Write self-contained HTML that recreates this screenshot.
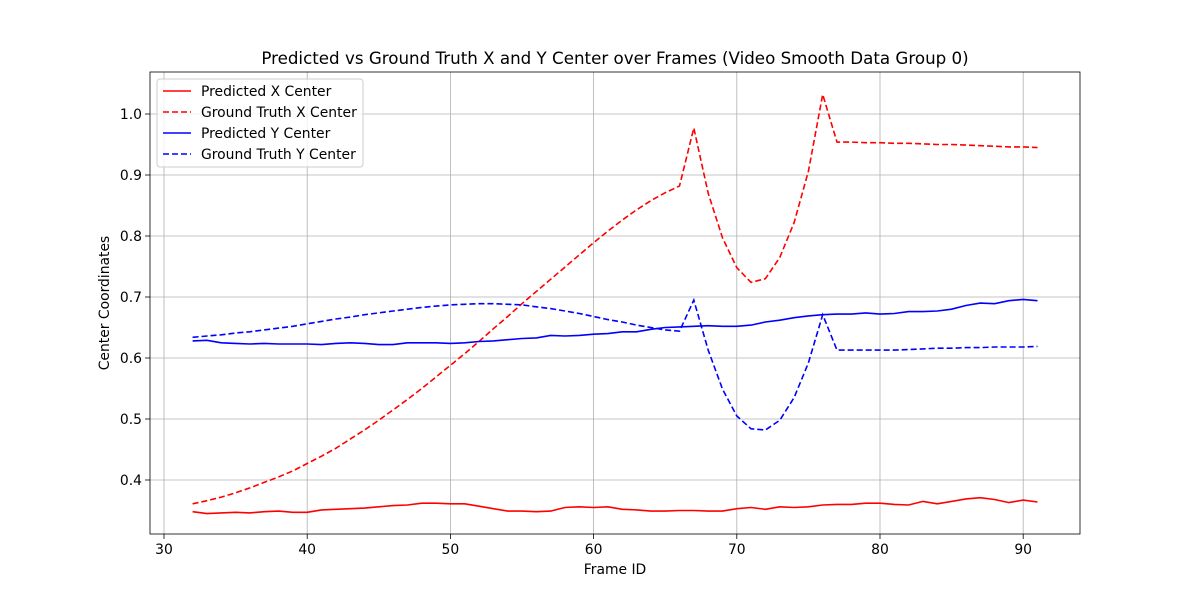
<!DOCTYPE html>
<html><head><meta charset="utf-8"><style>
body{margin:0;background:#fff;}
svg text{font-family:"DejaVu Sans","Liberation Sans",sans-serif;fill:#000;}
</style></head><body>
<svg id="chart" width="1200" height="600" viewBox="0 0 1200 600" xmlns="http://www.w3.org/2000/svg">
<rect width="1200" height="600" fill="#fff"/>
<g id="grid"></g><g id="series"></g><g id="axes"></g><g id="legend"></g>
</svg>
<script>
const frames=[];for(let f=32;f<=91;f++)frames.push(f);
const predX=[0.348,0.345,0.346,0.347,0.346,0.348,0.349,0.347,0.347,0.351,0.352,0.353,0.354,0.356,0.358,0.359,0.362,0.362,0.361,0.361,0.357,0.353,0.349,0.349,0.348,0.349,0.355,0.356,0.355,0.356,0.352,0.351,0.349,0.349,0.350,0.350,0.349,0.349,0.353,0.355,0.352,0.356,0.355,0.356,0.359,0.360,0.360,0.362,0.362,0.360,0.359,0.365,0.361,0.365,0.369,0.371,0.368,0.363,0.367,0.364];
const gtX=[0.361,0.366,0.372,0.379,0.387,0.396,0.405,0.415,0.427,0.439,0.452,0.467,0.482,0.498,0.515,0.532,0.550,0.569,0.588,0.607,0.627,0.648,0.668,0.689,0.709,0.729,0.749,0.769,0.789,0.808,0.826,0.843,0.858,0.871,0.882,0.977,0.870,0.797,0.748,0.724,0.730,0.765,0.822,0.906,1.032,0.954,0.954,0.953,0.953,0.952,0.952,0.951,0.950,0.950,0.949,0.948,0.947,0.946,0.946,0.945];
const predY=[0.628,0.629,0.625,0.624,0.623,0.624,0.623,0.623,0.623,0.622,0.624,0.625,0.624,0.622,0.622,0.625,0.625,0.625,0.624,0.625,0.627,0.628,0.630,0.632,0.633,0.637,0.636,0.637,0.639,0.640,0.643,0.643,0.647,0.650,0.651,0.652,0.653,0.652,0.652,0.654,0.659,0.662,0.666,0.669,0.671,0.672,0.672,0.674,0.672,0.673,0.676,0.676,0.677,0.680,0.686,0.690,0.689,0.694,0.696,0.694];
const gtY=[0.634,0.636,0.638,0.641,0.643,0.646,0.649,0.652,0.656,0.660,0.664,0.667,0.671,0.674,0.677,0.680,0.683,0.685,0.687,0.688,0.689,0.689,0.688,0.687,0.684,0.681,0.677,0.673,0.668,0.663,0.659,0.654,0.650,0.646,0.644,0.695,0.613,0.549,0.505,0.484,0.482,0.498,0.535,0.592,0.671,0.613,0.613,0.613,0.613,0.613,0.614,0.615,0.616,0.616,0.617,0.617,0.618,0.618,0.618,0.619];
const xTicks=[30,40,50,60,70,80,90];
const yTicks=[0.4,0.5,0.6,0.7,0.8,0.9,1.0];
const seriesNames=["Predicted X Center","Ground Truth X Center","Predicted Y Center","Ground Truth Y Center"];

const L=150,R=1080,T=72,B=534;
const sx=v=>164+(v-30)*14.32;
const sy=v=>480-(v-0.4)*610;
const NS="http://www.w3.org/2000/svg";
function mk(tag,attrs,parent,text){const e=document.createElementNS(NS,tag);for(const k in attrs)e.setAttribute(k,attrs[k]);if(text!==undefined)e.textContent=text;parent.appendChild(e);return e;}
const grid=document.getElementById('grid'),axes=document.getElementById('axes'),ser=document.getElementById('series'),leg=document.getElementById('legend');
xTicks.forEach(t=>{const x=sx(t);
 const g=mk('line',{x1:x,x2:x,y1:T,y2:B,stroke:'#b0b0b0','stroke-width':0.8},grid);
 
 mk('line',{x1:x,x2:x,y1:B,y2:B+5,stroke:'#000','stroke-width':0.8},axes);
 const l=mk('text',{x:x,y:B+20,'text-anchor':'middle','font-size':13.9},axes,String(t));
 });
yTicks.forEach(t=>{const y=sy(t);
 const g=mk('line',{x1:L,x2:R,y1:y,y2:y,stroke:'#b0b0b0','stroke-width':0.8},grid);
 
 mk('line',{x1:L-5,x2:L,y1:y,y2:y,stroke:'#000','stroke-width':0.8},axes);
 const l=mk('text',{x:L-8,y:y+5,'text-anchor':'end','font-size':13.9},axes,t.toFixed(1));
 });
const fr=mk('rect',{x:L,y:T,width:R-L,height:B-T,fill:'none',stroke:'#000','stroke-width':0.8},axes);

const ti=mk('text',{x:615,y:64,'text-anchor':'middle','font-size':16.7},axes,'Predicted vs Ground Truth X and Y Center over Frames (Video Smooth Data Group 0)');

const xt=mk('text',{x:615,y:574,'text-anchor':'middle','font-size':13.9},axes,'Frame ID');

const yt=mk('text',{x:0,y:0,'text-anchor':'middle','font-size':13.9,transform:'translate(109,303) rotate(-90)'},axes,'Center Coordinates');

const defs=[[predX,'red',null,'pred-x-line'],[gtX,'red','6,3','gt-x-line'],[predY,'blue',null,'pred-y-line'],[gtY,'blue','6,3','gt-y-line']];
defs.forEach(([d,c,dash,name])=>{
 const p=mk('path',{d:d.map((v,i)=>(i?'L':'M')+sx(frames[i]).toFixed(1)+','+sy(v).toFixed(1)).join(''),fill:'none',stroke:c,'stroke-width':1.6},ser);
 if(dash)p.setAttribute('stroke-dasharray',dash);
 });
const lb=mk('rect',{x:157,y:79,width:206,height:88,rx:3,fill:'#fff','fill-opacity':0.8,stroke:'#ccc'},leg);

seriesNames.forEach((n,i)=>{const y=91+i*21;
 const ln=mk('line',{x1:163,x2:191,y1:y,y2:y,stroke:defs[i][1],'stroke-width':1.6},leg);
 if(defs[i][2])ln.setAttribute('stroke-dasharray',defs[i][2]);
 
 const tx=mk('text',{x:201,y:y+5,'font-size':13.9},leg,n);
 });
</script>
</body></html>
